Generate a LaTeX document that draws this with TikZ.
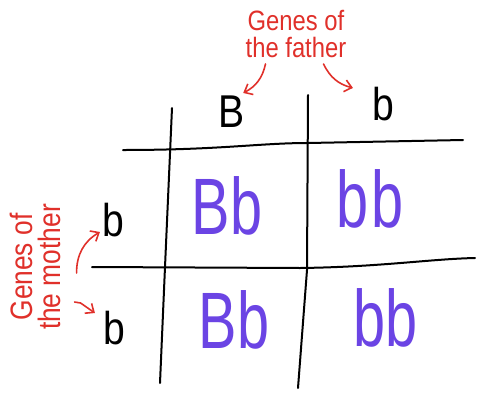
\documentclass[tikz,border=0pt]{standalone}
\usepackage{fontspec}
\setmainfont{Liberation Sans}
\newfontfamily\penfont[FakeStretch=0.85]{Liberation Sans}
\newfontfamily\cellfont[FakeStretch=0.72]{Liberation Sans}
\usetikzlibrary{arrows.meta}
\definecolor{PenRed}{HTML}{E0302A}
\definecolor{PenPurple}{HTML}{6B44E4}

\begin{document}
\begin{tikzpicture}[x=1pt,y=-1pt,>={Straight Barb[length=7pt,width=12pt]},
    grid/.style={line width=2pt,line cap=round},
    allele/.style={font=\penfont\fontsize{46}{46}\selectfont,inner sep=0pt},
    cell/.style={text=PenPurple,font=\cellfont\fontsize{80}{80}\selectfont,inner sep=0pt},
    note/.style={text=PenRed,font=\penfont\fontsize{28}{27}\selectfont,align=center,inner sep=0pt},
    pointer/.style={->,PenRed,line width=1.6pt,line cap=round}]
  \useasboundingbox (0,0) rectangle (482,394);
  % grid
  \draw[grid] (123,150) .. controls (220,150) and (260,143) .. (308,143) -- (463,140);
  \draw[grid] (92,267) -- (300,268) .. controls (380,267) and (430,259) .. (475,258);
  \draw[grid] (172,108) -- (165,267) -- (160,383);
  \draw[grid] (308,95) -- (307,270) -- (298,388);
  % alleles
  \node[allele] (fatherB) at (232,112) {B};
  \node[allele] (fatherb) at (383,104) {b};
  \node[allele] (mother1) at (113,220) {b};
  \node[allele] (mother2) at (114,328) {b};
  % offspring
  \node[cell] (cellBb1) at (227,206) {Bb};
  \node[cell] (cellbb1) at (370,199) {b\kern3pt b};
  \node[cell] (cellBb2) at (234,320) {Bb};
  \node[cell] (cellbb2) at (386,318) {bb};
  % notes
  \node[note] (fatherlbl) at (296,34) {Genes of\\the father};
  \node[note,font=\penfont\fontsize{31}{28}\selectfont,rotate=90] (motherlbl) at (35,267) {Genes of\\the mother};
  \draw[pointer] ([xshift=20pt,yshift=-6pt]fatherlbl.south west) to[bend left=25] ([xshift=-2pt,yshift=3pt]fatherB.north east);
  \draw[pointer] ([xshift=-23pt,yshift=-6pt]fatherlbl.south east) to[bend right=25] ([xshift=-19pt,yshift=-1pt]fatherb.north west);
  \draw[pointer] ([xshift=16pt,yshift=-6pt]motherlbl.south) to[bend left=30] ([xshift=-2pt,yshift=-12pt]mother1.west);
  \draw[pointer] ([xshift=14pt,yshift=-35pt]motherlbl.south) -- ++(6pt,-1pt) -- ([xshift=-8pt,yshift=15pt]mother2.west);
\end{tikzpicture}
\end{document}
